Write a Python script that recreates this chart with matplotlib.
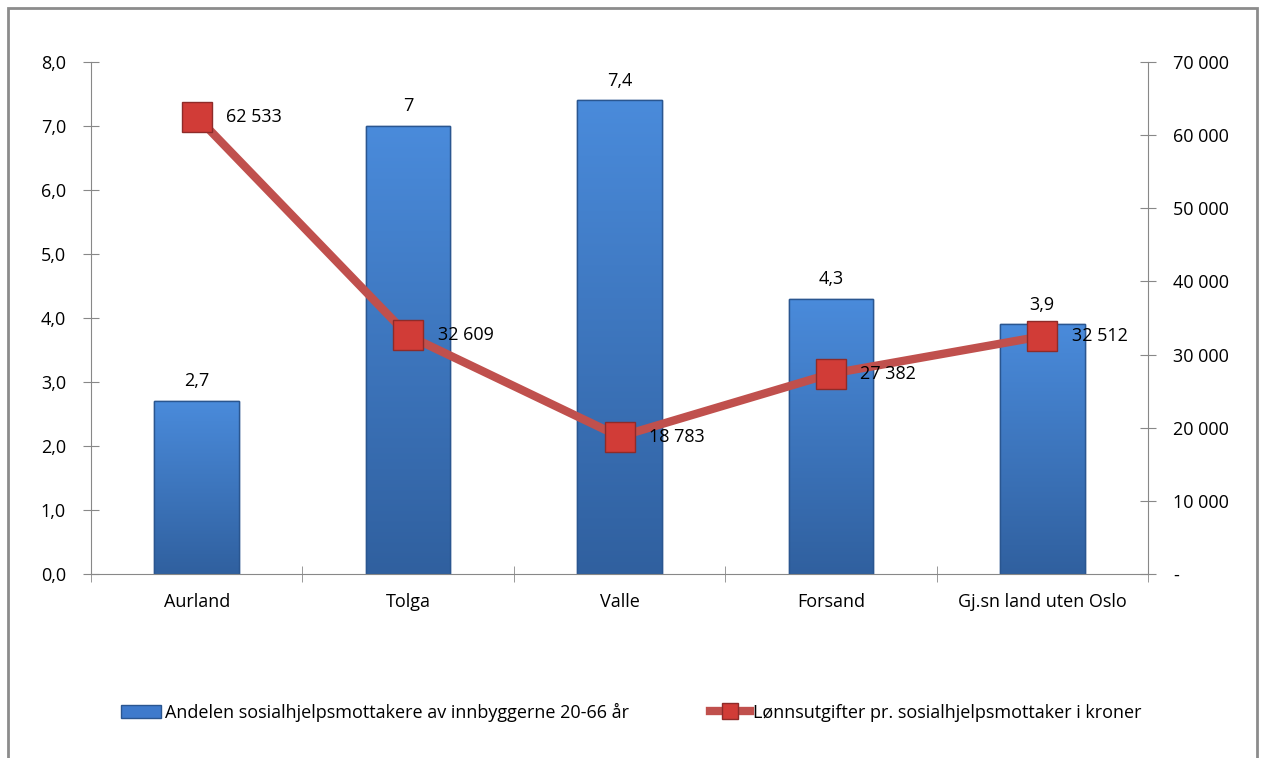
import numpy as np
import matplotlib
matplotlib.use("Agg")
import matplotlib.pyplot as plt
from matplotlib.patches import Rectangle
from matplotlib.lines import Line2D

plt.rcParams["font.family"] = ["Open Sans", "DejaVu Sans"]

categories = ["Aurland", "Tolga", "Valle", "Forsand", "Gj.sn land uten Oslo"]
andel = [2.7, 7.0, 7.4, 4.3, 3.9]
andel_labels = ["2,7", "7", "7,4", "4,3", "3,9"]
lonn = [62533, 32609, 18783, 27382, 32512]
lonn_labels = ["62 533", "32 609", "18 783", "27 382", "32 512"]
left_ticks = [0, 1, 2, 3, 4, 5, 6, 7, 8]
left_ticklabels = ["0,0", "1,0", "2,0", "3,0", "4,0", "5,0", "6,0", "7,0", "8,0"]
right_ticks = [0, 10000, 20000, 30000, 40000, 50000, 60000, 70000]
right_ticklabels = ["-", "10 000", "20 000", "30 000", "40 000", "50 000", "60 000", "70 000"]

BLUE_TOP, BLUE_BOT, BLUE_EDGE = "#4A8BDB", "#30609F", "#2A5690"
RED, RED_DARK = "#C0504D", "#8E2B29"
GRID = "#888888"
FS = 13

fig = plt.figure(figsize=(12.63, 7.58), dpi=100)
fig.patches.append(Rectangle((8 / 1263, -0.05), 1249 / 1263, 1.05 - 8 / 758,
                             transform=fig.transFigure, fill=False,
                             edgecolor="#8c8c8c", lw=2, zorder=0))
ax = fig.add_axes([91 / 1263, 1 - 574 / 758, (1148 - 91) / 1263, (574 - 62) / 758])
ax2 = ax.twinx()

x = np.arange(len(categories))
bars = ax.bar(x, andel, width=0.4, color=BLUE_TOP, edgecolor=BLUE_EDGE, lw=1, zorder=2)
grad = np.linspace(0, 1, 256).reshape(-1, 1)
cmap = matplotlib.colors.LinearSegmentedColormap.from_list("b", [BLUE_BOT, BLUE_TOP])
for b in bars:
    x0, w, h = b.get_x(), b.get_width(), b.get_height()
    im = ax.imshow(grad, extent=[x0, x0 + w, 0, h], origin="lower", aspect="auto",
                   cmap=cmap, zorder=2.1)
    im.set_clip_path(b)
    ax.add_patch(Rectangle((x0, 0), w, h, fill=False, edgecolor=BLUE_EDGE, lw=1, zorder=2.2))
for xi, v, lab in zip(x, andel, andel_labels):
    ax.text(xi, v + 0.17, lab, ha="center", va="bottom", fontsize=FS)

ax.set_xlim(-0.5, len(categories) - 0.5)
ax.set_ylim(0, 8)
ax.set_yticks(left_ticks)
ax.set_yticklabels(left_ticklabels, fontsize=FS)
ax.set_xticks(x)
ax.set_xticklabels(categories, fontsize=FS)
ax.tick_params(axis="x", length=0, pad=14)
ax.set_xticks(np.arange(len(categories) + 1) - 0.5, minor=True)
ax.tick_params(axis="x", which="minor", length=12, direction="inout", color=GRID)
ax.tick_params(axis="y", direction="inout", length=12, color=GRID, pad=12)
for s in ["top", "right"]:
    ax.spines[s].set_visible(False)
ax.spines["left"].set_color(GRID)
ax.spines["bottom"].set_color(GRID)

ax2.plot(x, lonn, color=RED, lw=6, zorder=3, solid_capstyle="butt")
ax2.plot(x, lonn, ls="none", marker="s", ms=21, mfc="#D13C37", mec=RED_DARK, mew=1, zorder=4)
for xi, v, lab in zip(x, lonn, lonn_labels):
    ax2.text(xi + 0.14, v, lab, ha="left", va="center", fontsize=FS, zorder=5)
ax2.set_ylim(0, 70000)
ax2.set_yticks(right_ticks)
ax2.set_yticklabels(right_ticklabels, fontsize=FS)
ax2.tick_params(axis="y", direction="inout", length=12, color=GRID, pad=12)
for s in ["top", "left", "bottom"]:
    ax2.spines[s].set_visible(False)
ax2.spines["right"].set_color(GRID)
ax.set_zorder(1)
ax2.set_zorder(2)
ax2.patch.set_visible(False)

handles = [Rectangle((0, 0), 1, 1, facecolor="#3E7ACC", edgecolor=BLUE_EDGE),
           Line2D([], [], color=RED, lw=6, marker="s", ms=12, mfc="#D13C37", mec=RED_DARK)]
fig.legend(handles, ["Andelen sosialhjelpsmottakere av innbyggerne 20-66 år",
                     "Lønnsutgifter pr. sosialhjelpsmottaker i kroner"],
           loc="center", bbox_to_anchor=(0.5, 1 - 712 / 758), ncol=2, frameon=False,
           fontsize=FS, handlelength=2.2, handletextpad=0.2, columnspacing=4.5)

fig.savefig("out.png", dpi=100)
